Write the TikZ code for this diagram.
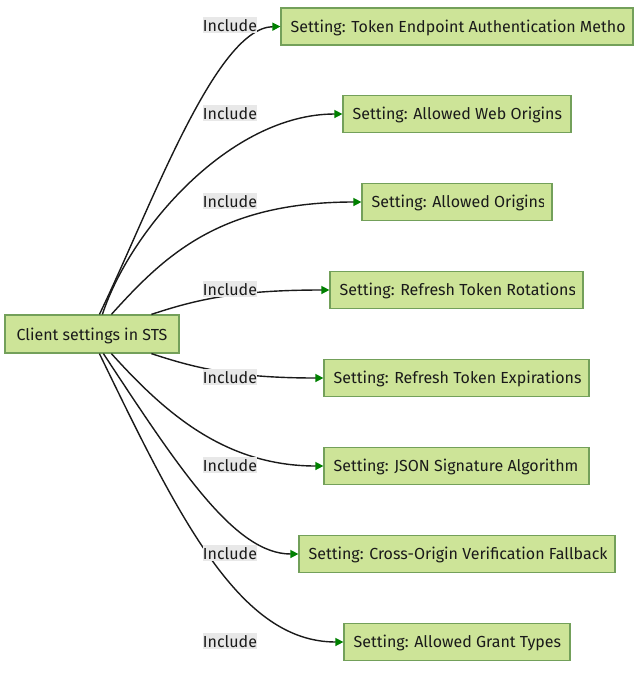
\documentclass[tikz,border=0pt]{standalone}
\usepackage{fontspec}
\setmainfont{Fira Sans}
\usetikzlibrary{arrows.meta}
\definecolor{boxfill}{HTML}{CDE498}
\definecolor{boxline}{HTML}{73A05A}
\definecolor{lblbg}{HTML}{E8E8E8}
\definecolor{arrowgreen}{HTML}{008000}
\definecolor{edgecol}{HTML}{1A1A1A}
\definecolor{txtcol}{HTML}{1A1A1A}
\begin{document}
\begin{tikzpicture}[x=1pt,y=-1pt,
  box/.style={draw=boxline, fill=boxfill, line width=1.2pt, inner sep=0pt, minimum height=37pt},
  txt/.style={anchor=base west, inner sep=0pt, font=\fontsize{16}{18}\selectfont, text=txtcol},
  lbl/.style={fill=lblbg, inner sep=0pt, text height=15pt, text depth=1.5pt, font=\fontsize{16}{18}\selectfont, text=txtcol, anchor=base},
  edge/.style={draw=edgecol, line width=1.4pt, -{Triangle[length=8pt,width=8pt,color=arrowgreen,fill=arrowgreen]}}
]
\useasboundingbox (0,0) rectangle (640,675);
% main node
\node[box, minimum width=174pt, minimum height=38pt] (c) at (92,334) {};
\node[txt, anchor=base] (ct) at (92,340) {Client settings in STS};
% target boxes
\node[box, minimum width=352pt] (b1) at (457,26.5) {};
\node[box, minimum width=228pt] (b2) at (457,114) {};
\node[box, minimum width=190pt] (b3) at (457,202) {};
\node[box, minimum width=253pt] (b4) at (456.5,290) {};
\node[box, minimum width=265pt] (b5) at (456.5,378) {};
\node[box, minimum width=265pt] (b6) at (456.5,466) {};
\node[box, minimum width=316pt] (b7) at (457,554) {};
\node[box, minimum width=226pt] (b8) at (457,642) {};
% texts clipped inside boxes
\begin{scope}\clip (b1.north west) rectangle ([xshift=-9pt]b1.south east);
\node[txt] (t1) at ([xshift=10pt,yshift=-5.5pt]b1.west) {Setting: Token Endpoint Authentication Method};\end{scope}
\begin{scope}\clip (b2.north west) rectangle ([xshift=-9pt]b2.south east);
\node[txt] (t2) at ([xshift=10pt,yshift=-5.5pt]b2.west) {Setting: Allowed Web Origins};\end{scope}
\begin{scope}\clip (b3.north west) rectangle ([xshift=-9pt]b3.south east);
\node[txt] (t3) at ([xshift=10pt,yshift=-5.5pt]b3.west) {Setting: Allowed Origins};\end{scope}
\begin{scope}\clip (b4.north west) rectangle ([xshift=-9pt]b4.south east);
\node[txt] (t4) at ([xshift=10pt,yshift=-5.5pt]b4.west) {Setting: Refresh Token Rotations};\end{scope}
\begin{scope}\clip (b5.north west) rectangle ([xshift=-9pt]b5.south east);
\node[txt] (t5) at ([xshift=10pt,yshift=-5.5pt]b5.west) {Setting: Refresh Token Expirations};\end{scope}
\begin{scope}\clip (b6.north west) rectangle ([xshift=-9pt]b6.south east);
\node[txt] (t6) at ([xshift=10pt,yshift=-5.5pt]b6.west) {Setting: JSON Signature Algorithm};\end{scope}
\begin{scope}\clip (b7.north west) rectangle ([xshift=-9pt]b7.south east);
\node[txt] (t7) at ([xshift=10pt,yshift=-5.5pt]b7.west) {Setting: Cross-Origin Verification Fallback};\end{scope}
\begin{scope}\clip (b8.north west) rectangle ([xshift=-9pt]b8.south east);
\node[txt] (t8) at ([xshift=10pt,yshift=-5.5pt]b8.west) {Setting: Allowed Grant Types};\end{scope}
% edges
\draw[edge] ([xshift=95pt]c.north west) .. controls (150,210) and (215,28) .. (b1.west);
\draw[edge] ([xshift=98pt]c.north west) .. controls (130,230) and (230,114) .. (b2.west);
\draw[edge] ([xshift=107pt]c.north west) .. controls (165,255) and (220,202) .. (b3.west);
\draw[edge] ([xshift=147pt]c.north west) .. controls (195,300) and (235,290) .. (b4.west);
\draw[edge] ([xshift=147pt]c.south west) .. controls (195,368) and (235,378) .. (b5.west);
\draw[edge] ([xshift=107pt]c.south west) .. controls (165,413) and (225,466) .. (b6.west);
\draw[edge] ([xshift=99pt]c.south west) .. controls (180,470) and (235,554) .. (b7.west);
\draw[edge] ([xshift=95pt]c.south west) .. controls (180,520) and (240,642) .. (b8.west);
% labels
\node[lbl] (l1) at (230,31.5) {Include};
\node[lbl] (l2) at (230,119.5) {Include};
\node[lbl] (l3) at (230,207.5) {Include};
\node[lbl] (l4) at (230,295.5) {Include};
\node[lbl] (l5) at (230,383.5) {Include};
\node[lbl] (l6) at (230,471.5) {Include};
\node[lbl] (l7) at (230,559.5) {Include};
\node[lbl] (l8) at (230,647.5) {Include};
\end{tikzpicture}
\end{document}
